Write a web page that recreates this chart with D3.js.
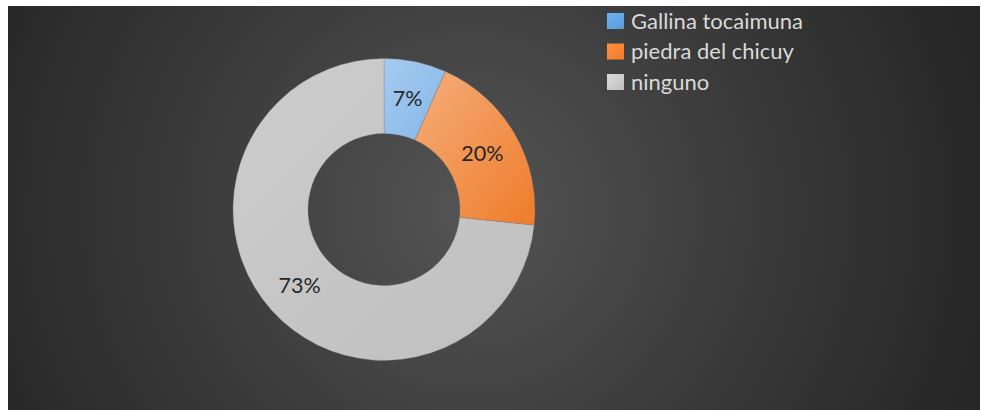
<!DOCTYPE html>
<html><head><meta charset="utf-8">
<script src="https://cdn.jsdelivr.net/npm/d3@7"></script>
<style>html,body{margin:0;padding:0;background:#fff;}svg{display:block;}</style>
</head><body>
<svg id="c" width="981" height="410"></svg>
<script>
const categories = ["Gallina tocaimuna", "piedra del chicuy", "ninguno"];
const values = [2, 6, 22];
const labels = ["7%", "20%", "73%"];
const colorsLight = ["#a6cbf0", "#f5ad7a", "#cdcdcd"];
const colorsDark = ["#84b6e8", "#ef7c2a", "#bfbfbf"];
const legendColors = ["#5b9bd5", "#ed7d31", "#bfbfbf"];

const svg = d3.select("#c");
const defs = svg.append("defs");
const bg = defs.append("radialGradient").attr("id","bg")
  .attr("gradientUnits","userSpaceOnUse").attr("cx",470).attr("cy",210).attr("r",520);
bg.append("stop").attr("offset","0").attr("stop-color","#545454");
bg.append("stop").attr("offset","0.55").attr("stop-color","#3a3a3a");
bg.append("stop").attr("offset","1").attr("stop-color","#272727");

svg.append("rect").attr("x",8).attr("y",6).attr("width",972).attr("height",404).attr("fill","url(#bg)");

categories.forEach((c,i)=>{
  const g = defs.append("linearGradient").attr("id","g"+i)
    .attr("x1","0").attr("y1","0").attr("x2","1").attr("y2","1");
  g.append("stop").attr("offset","0").attr("stop-color",colorsLight[i]);
  g.append("stop").attr("offset","1").attr("stop-color",colorsDark[i]);
  const lg = defs.append("linearGradient").attr("id","lg"+i)
    .attr("x1","0").attr("y1","0").attr("x2","1").attr("y2","1");
  lg.append("stop").attr("offset","0").attr("stop-color",d3.color(legendColors[i]).brighter(0.4));
  lg.append("stop").attr("offset","1").attr("stop-color",legendColors[i]);
});

const cx = 384, cy = 209.5, rOuter = 151, rInner = 76;
const pie = d3.pie().sort(null).value(d=>d)(values);
const arc = d3.arc().innerRadius(rInner).outerRadius(rOuter);
const gPie = svg.append("g").attr("transform",`translate(${cx},${cy})`);
gPie.selectAll("path").data(pie).join("path")
  .attr("d",arc)
  .attr("fill",(d,i)=>`url(#g${i})`)
  .attr("stroke","rgba(120,120,120,0.5)").attr("stroke-width",0.6);

const labelArc = d3.arc().innerRadius((rInner+rOuter)/2).outerRadius((rInner+rOuter)/2);
gPie.selectAll("text").data(pie).join("text")
  .attr("transform",d=>`translate(${labelArc.centroid(d)})`)
  .attr("text-anchor","middle").attr("dy","0.36em")
  .attr("font-family","Lato, 'Open Sans', sans-serif").attr("font-size",21.5)
  .attr("fill","#262626")
  .text((d,i)=>labels[i]);

const leg = svg.append("g").attr("transform","translate(607,13)");
categories.forEach((c,i)=>{
  const row = leg.append("g").attr("transform",`translate(0,${i*30.5})`);
  row.append("rect").attr("x",0).attr("y",0).attr("width",17).attr("height",16).attr("fill",`url(#lg${i})`);
  row.append("text").attr("x",24).attr("y",8).attr("dy","0.36em")
    .attr("font-family","Lato, 'Open Sans', sans-serif").attr("font-size",22)
    .attr("fill","#d9d9d9").text(c);
});
</script>
</body></html>
